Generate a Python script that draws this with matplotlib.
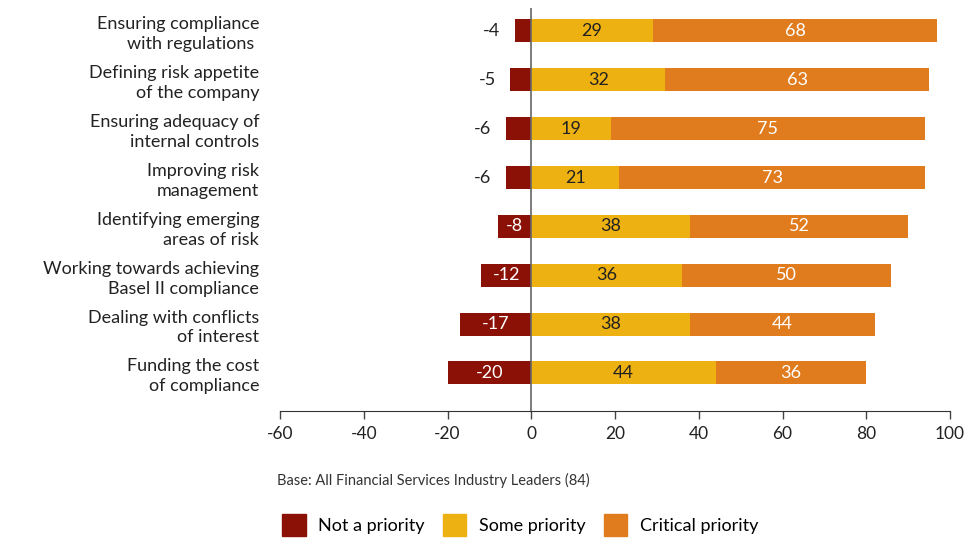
import matplotlib
matplotlib.use("Agg")
import matplotlib.pyplot as plt
from matplotlib.patches import Patch

plt.rcParams["font.family"] = ["Lato", "DejaVu Sans"]

# Priorities of financial services leaders
categories = [
    "Ensuring compliance\nwith regulations ",
    "Defining risk appetite\nof the company",
    "Ensuring adequacy of\ninternal controls",
    "Improving risk\nmanagement",
    "Identifying emerging\nareas of risk",
    "Working towards achieving\nBasel II compliance",
    "Dealing with conflicts\nof interest",
    "Funding the cost\nof compliance",
]
not_priority = [-4, -5, -6, -6, -8, -12, -17, -20]
some_priority = [29, 32, 19, 21, 38, 36, 38, 44]
critical_priority = [68, 63, 75, 73, 52, 50, 44, 36]
xticks = [-60, -40, -20, 0, 20, 40, 60, 80, 100]

c_not = "#8B1107"
c_some = "#EDB111"
c_crit = "#E07B1E"

fig = plt.figure(figsize=(9.67, 5.39), dpi=100)
ax = fig.add_axes([280 / 967, 1 - 411 / 539, 670 / 967, 403 / 539])

y = list(range(len(categories)))
h = 0.47
ax.barh(y, not_priority, height=h, color=c_not, zorder=2)
ax.barh(y, some_priority, height=h, color=c_some, zorder=2)
ax.barh(y, critical_priority, left=some_priority, height=h, color=c_crit, zorder=2)

for i in y:
    v = not_priority[i]
    if abs(v) < 7:
        ax.text(v - 3.5, i, str(v), ha="right", va="center", fontsize=13, color="#222222")
    else:
        ax.text(v / 2, i, str(v), ha="center", va="center", fontsize=13, color="white")
    s = some_priority[i]
    ax.text(s / 2, i, str(s), ha="center", va="center", fontsize=13, color="#222222")
    c = critical_priority[i]
    ax.text(s + c / 2, i, str(c), ha="center", va="center", fontsize=13, color="white")

ax.axvline(0, color="#666666", lw=1.2, zorder=3)

ax.set_xlim(-60, 100)
ax.set_ylim(len(categories) - 1 + 0.78, -0.47)
ax.set_xticks(xticks)
ax.set_xticklabels([str(t) for t in xticks], fontsize=12.5, color="#222222")
ax.set_yticks(y)
ax.set_yticklabels(categories, fontsize=13, color="#222222", linespacing=1.3)
ax.tick_params(axis="y", length=0, pad=15)
ax.tick_params(axis="x", length=6, width=1, color="#444444", pad=5)

for side in ["top", "right", "left"]:
    ax.spines[side].set_visible(False)
ax.spines["bottom"].set_color("#333333")

fig.text(277 / 967, 1 - 480 / 539, "Base: All Financial Services Industry Leaders (84)",
         fontsize=10.5, color="#333333", va="center")

handles = [Patch(color=c_not, label="Not a priority"),
           Patch(color=c_some, label="Some priority"),
           Patch(color=c_crit, label="Critical priority")]
fig.legend(handles=handles, loc="center left", bbox_to_anchor=(266 / 967, 1 - 525 / 539),
           ncol=3, frameon=False, fontsize=13, handlelength=1.3, handleheight=1.5,
           columnspacing=1.0, handletextpad=0.7)

fig.savefig("out.png", dpi=100)
